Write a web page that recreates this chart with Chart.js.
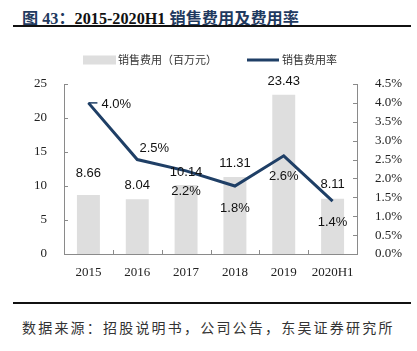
<!DOCTYPE html>
<html>
<head>
  <meta charset="utf-8">
  <title>销售费用及费用率</title>
  <script src="https://cdn.jsdelivr.net/npm/chart.js"></script>
</head>
<body style="margin:0; background:#fff; width:417px; height:351px; position:relative; overflow:hidden;">
  <div style="position:absolute; left:22px; top:5px; font:bold 16.2px 'Liberation Serif','Noto Sans CJK SC',serif; color:#1f3a60; white-space:nowrap;">图 43：<span style="color:#111;">2015-2020H1</span> 销售费用及费用率</div>
  <div style="position:absolute; left:13px; top:25px; width:398px; height:2px; background:#111;"></div>
  <div style="position:absolute; left:0; top:40px; width:417px; height:258px;">
    <canvas id="c" width="417" height="258"></canvas>
  </div>
  <div style="position:absolute; left:13px; top:302px; width:398px; height:2px; background:#111;"></div>
  <div style="position:absolute; left:22px; top:317px; font:14px 'Noto Sans CJK SC',sans-serif; letter-spacing:2.2px; color:#333; white-space:nowrap;">数据来源：招股说明书，公司公告，东吴证券研究所</div>
  <script>
    const years = ['2015', '2016', '2017', '2018', '2019', '2020H1'];
    const salesExpense = [8.66, 8.04, 10.14, 11.31, 23.43, 8.11];
    const expenseRate = [4.0, 2.5, 2.2, 1.8, 2.6, 1.4];
    const leftTicks = [0, 5, 10, 15, 20, 25];
    const rightTicks = [0, 0.5, 1, 1.5, 2, 2.5, 3, 3.5, 4, 4.5];

    const navy = '#1f3f66';
    const barGray = '#dedede';
    const axisGray = '#8a8a8a';

    // where each label sits relative to its mark (px)
    const barLabelDy = [-22, -14, -13, -14, -13, -14];
    const rateLabelPos = [[13, 2, 'left'], [17, -11, 'center'], [0, 21, 'center'], [0, 22, 'center'], [0, 21, 'center'], [0, 21, 'center']];

    const extras = {
      id: 'extras',
      afterDatasetsDraw(chart) {
        const ctx = chart.ctx;
        const x = chart.scales.x, y = chart.scales.y, y1 = chart.scales.y1;
        const ds = chart.data.datasets;
        ctx.save();
        // inward tick marks
        ctx.strokeStyle = axisGray;
        ctx.lineWidth = 1;
        ctx.beginPath();
        leftTicks.forEach(v => {
          const py = Math.round(y.getPixelForValue(v)) + 0.5;
          ctx.moveTo(x.left, py); ctx.lineTo(x.left + 4, py);
        });
        rightTicks.forEach(v => {
          const py = Math.round(y1.getPixelForValue(v)) + 0.5;
          ctx.moveTo(x.right - 4, py); ctx.lineTo(x.right, py);
        });
        for (let i = 1; i < years.length; i++) {
          const px = Math.round((x.getPixelForValue(i - 1) + x.getPixelForValue(i)) / 2) + 0.5;
          ctx.moveTo(px, x.top); ctx.lineTo(px, x.top - 4);
        }
        ctx.stroke();

        ctx.font = '13px "Liberation Sans", Arial, sans-serif';
        ctx.fillStyle = '#111';
        ctx.textBaseline = 'middle';
        // bar values
        ctx.textAlign = 'center';
        salesExpense.forEach((v, i) => {
          ctx.fillText(v.toFixed(2), x.getPixelForValue(i), y.getPixelForValue(v) + barLabelDy[i]);
        });
        // rate labels
        expenseRate.forEach((v, i) => {
          const px = x.getPixelForValue(i), py = y1.getPixelForValue(v);
          const p = rateLabelPos[i];
          ctx.textAlign = p[2];
          ctx.fillText(v.toFixed(1) + '%', px + p[0], py + p[1]);
        });
        // little leader at the first point
        const p0x = x.getPixelForValue(0), p0y = y1.getPixelForValue(expenseRate[0]);
        ctx.strokeStyle = navy;
        ctx.lineWidth = 1.5;
        ctx.beginPath();
        ctx.moveTo(p0x, p0y); ctx.lineTo(p0x + 9, p0y);
        ctx.stroke();

        // legend
        const ly = 20;
        ctx.fillStyle = barGray;
        ctx.fillRect(83, ly - 4.5, 33, 9);
        ctx.strokeStyle = navy;
        ctx.lineWidth = 3;
        ctx.beginPath();
        ctx.moveTo(247, ly); ctx.lineTo(279, ly);
        ctx.stroke();
        ctx.fillStyle = '#333';
        ctx.textAlign = 'left';
        ctx.font = '11px "Noto Sans CJK SC", sans-serif';
        ctx.fillText(ds[1].label, 118, ly);
        ctx.fillText(ds[0].label, 282, ly);
        ctx.restore();
      }
    };

    const tickFont = { family: '"Liberation Serif", "Times New Roman", serif', size: 13 };

    new Chart(document.getElementById('c'), {
      type: 'bar',
      data: {
        labels: years,
        datasets: [
          {
            type: 'line',
            label: '销售费用率',
            data: expenseRate,
            yAxisID: 'y1',
            borderColor: navy,
            backgroundColor: navy,
            borderWidth: 3,
            pointRadius: 0,
            tension: 0,
            order: 0
          },
          {
            label: '销售费用（百万元）',
            data: salesExpense,
            yAxisID: 'y',
            backgroundColor: barGray,
            categoryPercentage: 1,
            barPercentage: 0.47,
            order: 1
          }
        ]
      },
      options: {
        responsive: false,
        animation: false,
        layout: { padding: { top: 44, left: 0, right: 0, bottom: 0 } },
        plugins: {
          tooltip: { enabled: false },
          legend: { display: false }
        },
        scales: {
          x: {
            offset: true,
            grid: { display: false },
            border: { display: true, color: axisGray },
            ticks: { color: '#222', font: tickFont, padding: 3 },
            afterFit(s) { s.height = 44; }
          },
          y: {
            position: 'left',
            min: 0, max: 25,
            afterBuildTicks(s) { s.ticks = leftTicks.map(v => ({ value: v })); },
            grid: { display: false },
            border: { display: true, color: axisGray },
            ticks: { color: '#222', font: tickFont, padding: 9 },
            afterFit(s) { s.width = 64; }
          },
          y1: {
            position: 'right',
            min: 0, max: 4.5,
            afterBuildTicks(s) { s.ticks = rightTicks.map(v => ({ value: v })); },
            grid: { display: false },
            border: { display: true, color: axisGray },
            ticks: { color: '#222', font: tickFont, padding: 10, callback: v => v.toFixed(1) + '%' },
            afterFit(s) { s.width = 60; }
          }
        }
      },
      plugins: [extras]
    });
  </script>
</body>
</html>
